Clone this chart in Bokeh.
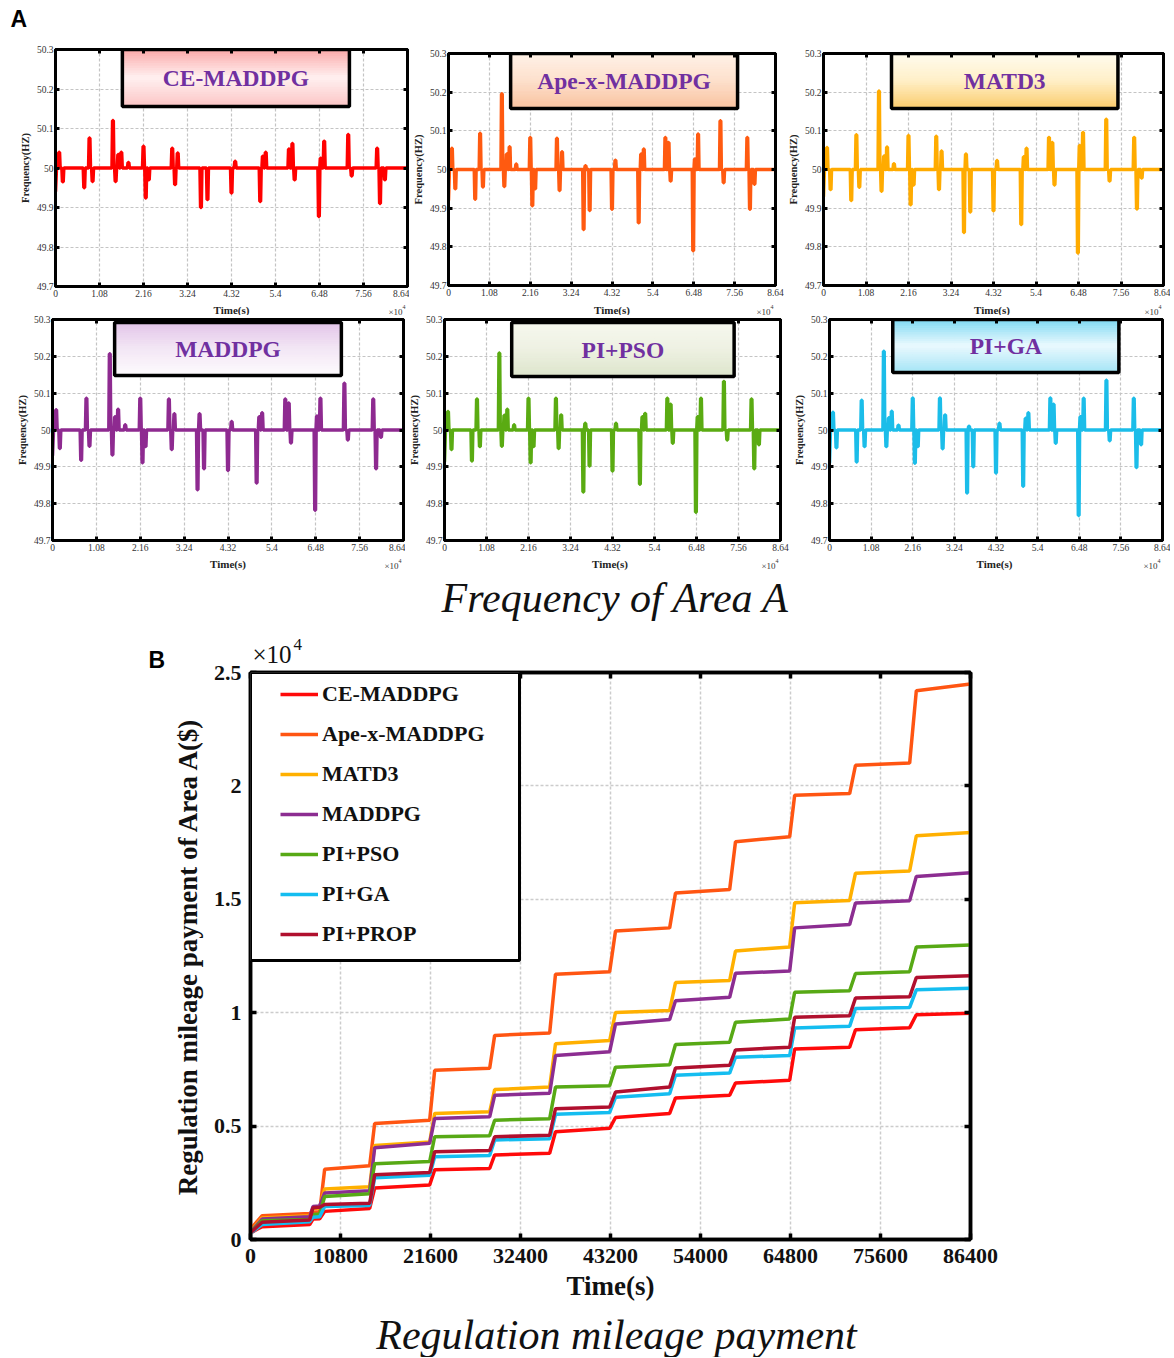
import numpy as np
from bokeh.plotting import figure
from bokeh.models import (Range1d, FixedTicker, LinearAxis, Label, Legend,
                          LegendItem, BoxAnnotation)
from bokeh.layouts import row, column
from bokeh.embed import file_html
from bokeh.resources import INLINE

# ------------------------------------------------------------------ data A
panel_names = ["CE-MADDPG", "Ape-x-MADDPG", "MATD3", "MADDPG", "PI+PSO", "PI+GA"]
panel_colors = ["#ff0000", "#ff5a10", "#ffab00", "#8e2a90", "#5aab12", "#1bbde9"]

event_times = [900, 1800, 7050, 8350, 9100, 14100, 14750, 15400, 16150, 17900,
               21600, 22150, 22900, 28650, 29350, 30000, 35700, 36200, 37300,
               43200, 44100, 50250, 50900, 51600, 57300, 58150, 58700, 64650,
               65100, 65950, 71850, 72700, 78950, 79650, 80850]
start_freq = [49.94, 49.92, 49.93, 49.93, 49.914, 49.91]

peaks_ce = [50.040, 49.965, 49.950, 50.076, 49.966, 50.120, 49.966, 50.034, 50.040, 50.014,
            50.055, 49.924, 49.970, 50.050, 49.958, 50.038, 49.900, 50.000, 49.920, 49.937,
            50.017, 49.915, 50.030, 50.040, 50.048, 50.062, 49.970, 49.877, 50.025, 50.068,
            50.085, 49.980, 50.050, 49.910, 49.970]
peaks_apex = [50.055, 49.950, 49.923, 50.094, 49.955, 50.196, 49.956, 50.040, 50.059, 50.014,
              50.083, 49.906, 49.950, 50.081, 49.946, 50.046, 49.845, 50.010, 49.894, 49.897,
              50.024, 49.862, 50.040, 50.053, 50.083, 50.070, 49.970, 49.790, 50.027, 50.092,
              50.126, 49.966, 50.083, 49.897, 49.962]
peaks_matd3 = [50.057, 49.948, 49.920, 50.090, 49.954, 50.203, 49.944, 50.035, 50.058, 50.015,
               50.088, 49.909, 49.960, 50.086, 49.948, 50.048, 49.837, 50.040, 49.890, 49.893,
               50.023, 49.858, 50.033, 50.055, 50.083, 50.070, 49.960, 49.784, 50.062, 50.096,
               50.130, 49.970, 50.083, 49.898, 49.978]
peaks_maddpg = [50.055, 49.950, 49.918, 50.086, 49.956, 50.207, 49.932, 50.036, 50.056, 50.014,
                50.086, 49.911, 49.955, 50.084, 49.947, 50.044, 49.838, 50.044, 49.895, 49.890,
                50.023, 49.856, 50.036, 50.047, 50.084, 50.073, 49.965, 49.782, 50.038, 50.086,
                50.127, 49.973, 50.084, 49.895, 49.980]
peaks_pso = [50.050, 49.947, 49.916, 50.084, 49.955, 50.209, 49.956, 50.040, 50.056, 50.014,
             50.086, 49.911, 49.955, 50.086, 49.950, 50.041, 49.832, 50.018, 49.902, 49.889,
             50.018, 49.853, 50.036, 50.045, 50.086, 50.070, 49.964, 49.777, 50.036, 50.086,
             50.132, 49.973, 50.084, 49.895, 49.960]
peaks_ga = [50.048, 49.952, 49.913, 50.081, 49.955, 50.214, 49.955, 50.033, 50.051, 50.013,
            50.087, 49.910, 49.955, 50.087, 49.949, 50.041, 49.829, 50.010, 49.900, 49.883,
            50.018, 49.847, 50.032, 50.047, 50.087, 50.070, 49.964, 49.768, 50.036, 50.086,
            50.135, 49.971, 50.086, 49.898, 49.960]
panel_peaks = [peaks_ce, peaks_apex, peaks_matd3, peaks_maddpg, peaks_pso, peaks_ga]

x_ticks_a = [0, 10800, 21600, 32400, 43200, 54000, 64800, 75600, 86400]
x_labels_a = ["0", "1.08", "2.16", "3.24", "4.32", "5.4", "6.48", "7.56", "8.64"]
y_ticks_a = [49.7, 49.8, 49.9, 50.0, 50.1, 50.2, 50.3]
y_labels_a = ["49.7", "49.8", "49.9", "50", "50.1", "50.2", "50.3"]

# ------------------------------------------------------------------ data B
series_names = ["CE-MADDPG", "Ape-x-MADDPG", "MATD3", "MADDPG", "PI+PSO", "PI+GA", "PI+PROP"]
series_colors = ["#ff0a0a", "#ff5512", "#ffb000", "#8c2d91", "#57a915", "#14bdf0", "#b0102e"]
pay_time = [0, 800, 1400, 7100, 7500, 8300, 8900, 14300, 14900, 21500, 22100, 28700, 29300,
            35900, 36600, 43100, 43800, 50300, 51000, 57500, 58200, 64700, 65300, 71900,
            72600, 79100, 79900, 86400]
pay_ce = [290, 450, 560, 660, 900, 920, 1240, 1370, 2270, 2400, 3070, 3130, 3730, 3800, 4750,
          4900, 5380, 5560, 6240, 6360, 6900, 7020, 8400, 8480, 9250, 9340, 9910, 9980]
pay_apex = [440, 800, 1050, 1150, 1200, 1220, 3100, 3250, 5120, 5260, 7460, 7550, 9000, 9100,
            11700, 11810, 13600, 13740, 15280, 15430, 17540, 17760, 19590, 19660, 20910, 21010,
            24200, 24490]
pay_matd3 = [350, 700, 950, 1050, 1350, 1400, 2230, 2330, 4150, 4300, 5560, 5630, 6610, 6720,
             8630, 8770, 10010, 10100, 11330, 11420, 12720, 12900, 14850, 14950, 16150, 16250,
             17800, 17950]
pay_maddpg = [320, 650, 900, 1000, 1450, 1480, 2050, 2150, 4050, 4240, 5340, 5410, 6360, 6450,
              8110, 8280, 9500, 9700, 10530, 10680, 11740, 11840, 13740, 13890, 14840, 14940,
              16010, 16170]
pay_pso = [300, 600, 830, 880, 1100, 1120, 1900, 2020, 3340, 3440, 4530, 4580, 5260, 5320, 6720,
           6780, 7600, 7700, 8600, 8700, 9580, 9720, 10900, 10970, 11730, 11810, 12900, 12980]
pay_ga = [280, 500, 660, 780, 980, 1000, 1460, 1500, 2720, 2830, 3650, 3700, 4390, 4440, 5520,
          5600, 6270, 6430, 7240, 7340, 8040, 8110, 9320, 9400, 10190, 10230, 11010, 11080]
pay_prop = [300, 560, 760, 860, 1400, 1420, 1540, 1600, 2850, 2950, 3870, 3920, 4530, 4600, 5770,
            5840, 6500, 6720, 7560, 7680, 8360, 8480, 9800, 9870, 10650, 10700, 11550, 11630]
pay_series = [pay_ce, pay_apex, pay_matd3, pay_maddpg, pay_pso, pay_ga, pay_prop]

x_ticks_b = [0, 10800, 21600, 32400, 43200, 54000, 64800, 75600, 86400]
y_ticks_b = [0, 5000, 10000, 15000, 20000, 25000]
y_labels_b = ["0", "0.5", "1", "1.5", "2", "2.5"]

# ------------------------------------------------------------------ styling / layout
SERIF = "Liberation Serif"
PAGE_W = 1170
# width, height, border l, r, t, b   (row 1 canvas y 37-303, row 2 canvas y 315-558)
panel_layout = [
    (409, 266, 55, 2, 12, 17),
    (375, 266, 39, 9, 16, 18),
    (386, 266, 36, 7, 16, 18),
    (405, 243, 52, 2, 4, 18),
    (385, 243, 34, 10, 4, 18),
    (380, 243, 36, 8, 4, 18),
]
# page x of each frame (left, right) - used for the strip texts under the panels
frame_x = [(55, 407), (448, 775), (820, 1163), (52, 403), (439, 780), (826, 1162)]
# title box: frame fraction left/right, px below frame top for top/bottom
box_geom = [
    (0.190, 0.835, 0, 57),
    (0.190, 0.884, 0, 55),
    (0.200, 0.866, 0, 55),
    (0.177, 0.823, 3, 56),
    (0.200, 0.862, 3, 57),
    (0.190, 0.869, 0, 53),
]
box_grad = [
    ("#fba8a8", "#fff0f0", "#fcc6c6"),
    ("#fff2e8", "#fde0cc", "#f9c3a0"),
    ("#fffbef", "#fff0c8", "#fbcc6e"),
    ("#e2c4e8", "#f3e6f5", "#fdfbfd"),
    ("#f6f8ef", "#eef1e2", "#dde5cc"),
    ("#7cd8f2", "#eaf9fe", "#a6e5f6"),
]


def hex_rgb(h):
    return np.array([int(h[i:i + 2], 16) for i in (1, 3, 5)], dtype=float)


def gradient(top, mid, bot, n):
    a, m, b = hex_rgb(top), hex_rgb(mid), hex_rgb(bot)
    out = []
    for k in range(n):
        f = (k + 0.5) / n
        if f < 0.5:
            c = a + (m - a) * (f / 0.5)
        else:
            c = m + (b - m) * ((f - 0.5) / 0.5)
        out.append("#%02x%02x%02x" % tuple(int(round(v)) for v in c))
    return out


def spike_path(start, times, peaks):
    xs = [0.0, 250.0]
    ys = [start, 50.0]
    for t, pk in zip(times, peaks):
        xs += [t - 240, t - 90, t + 90, t + 240]
        ys += [50.0, pk, pk, 50.0]
    xs.append(86400.0)
    ys.append(50.0)
    return xs, ys


def style_axis(ax, font_size, standoff, label_size, label_standoff, tick_in, tick_w):
    ax.major_tick_in = tick_in
    ax.major_tick_out = 0
    ax.minor_tick_line_color = None
    ax.major_tick_line_width = tick_w
    ax.major_tick_line_color = "black"
    ax.axis_line_width = tick_w
    ax.axis_line_color = "black"
    ax.major_label_text_font = SERIF
    ax.major_label_text_font_size = font_size
    ax.major_label_standoff = standoff
    ax.axis_label_text_font = SERIF
    ax.axis_label_text_font_size = label_size
    ax.axis_label_text_font_style = "bold"
    ax.axis_label_standoff = label_standoff


def tick_only_axis(ticker, tick_in, tick_w):
    ax = LinearAxis(ticker=ticker)
    style_axis(ax, "1px", 0, "1px", 0, tick_in, tick_w)
    ax.major_label_text_color = None
    ax.major_label_text_alpha = 0
    return ax


def make_small(i):
    w, h, bl, br, bt, bb = panel_layout[i]
    fh = h - bt - bb
    hz_px = 0.6 / fh
    p = figure(width=w, height=h, x_range=Range1d(0, 86400), y_range=Range1d(49.7, 50.3),
               output_backend="svg", toolbar_location=None,
               min_border_left=bl, min_border_right=br, min_border_top=bt, min_border_bottom=bb,
               y_axis_label="Frequency(HZ)")
    p.outline_line_color = "black"
    p.outline_line_width = 3
    p.outline_line_alpha = 1
    xt = FixedTicker(ticks=x_ticks_a)
    yt = FixedTicker(ticks=y_ticks_a)
    xa = p.xaxis[0]
    ya = p.yaxis[0]
    xa.ticker = xt
    ya.ticker = yt
    xa.major_label_overrides = {t: l for t, l in zip(x_ticks_a, x_labels_a)}
    ya.major_label_overrides = {t: l for t, l in zip(y_ticks_a, y_labels_a)}
    style_axis(xa, "9.5px", 3, "10.5px", 2, 4, 3)
    style_axis(ya, "9.5px", 2, "10.5px", 3, 4, 3)
    for ax in (xa, ya):
        ax.major_label_text_color = "#333333"
        ax.axis_label_text_color = "#222222"
    p.add_layout(tick_only_axis(xt, 4, 3), "above")
    p.add_layout(tick_only_axis(yt, 4, 3), "right")
    p.xgrid.ticker = xt
    p.ygrid.ticker = yt
    p.grid.grid_line_color = "#c4c4c4"
    p.grid.grid_line_dash = "3 2"
    p.grid.grid_line_width = 1.2

    xs, ys = spike_path(start_freq[i], event_times, panel_peaks[i])
    p.line(xs, ys, color=panel_colors[i], line_width=3.5)

    fl, fr, tp, bp = box_geom[i]
    l, r = fl * 86400, fr * 86400
    top_hz, bot_hz = 50.3 - tp * hz_px, 50.3 - bp * hz_px
    n = 24
    edges = np.linspace(top_hz, bot_hz, n + 1)
    cols = gradient(*box_grad[i], n)
    p.quad(left=l, right=r, top=edges[:-1], bottom=edges[1:], fill_color=cols,
           line_color=cols, line_width=1)
    p.quad(left=[l], right=[r], top=[top_hz], bottom=[bot_hz], fill_color=None,
           line_color="black", line_width=3.5)
    p.add_layout(Label(x=(l + r) / 2, y=(top_hz + bot_hz) / 2, text=panel_names[i],
                       text_align="center", text_baseline="middle", text_font=SERIF,
                       text_font_style="bold", text_font_size="23.5px", text_color="#7030a0"))
    return p


def strip(height, y_top):
    # a text-only band whose data coordinates are page pixels
    s = figure(width=PAGE_W, height=height, x_range=Range1d(0, PAGE_W),
               y_range=Range1d(y_top + height, y_top), x_axis_type=None, y_axis_type=None,
               min_border=0, toolbar_location=None, output_backend="svg")
    s.outline_line_color = None
    return s


def txt(p, x, y, text, size, style="normal", align="left", font=SERIF, color="#111111"):
    p.add_layout(Label(x=x, y=y, text=text, text_align=align, text_baseline="middle",
                       text_font=font, text_font_style=style, text_font_size=size,
                       text_color=color))


smalls = [make_small(i) for i in range(6)]

# ---- text strips
t0 = strip(37, 0)
txt(t0, 10, 18.5, "A", "23px", "bold", font="Liberation Sans", color="black")

t1 = strip(12, 303)
t2 = strip(75, 558)
for i in range(6):
    s, ty = (t1, 309) if i < 3 else (t2, 563)
    fl, fr = frame_x[i]
    txt(s, (fl + fr) / 2, ty, "Time(s)", "11px", "bold", align="center", color="#222222")
    txt(s, fr - 5, ty + 2, "×10", "9px", align="right", color="#333333")
    txt(s, fr - 5, ty - 3, "4", "6px", align="left", color="#333333")
txt(t2, 615, 597, "Frequency of Area A", "42px", "italic", align="center")

t3 = strip(48, 1309)
txt(t3, 616, 1334, "Regulation mileage payment", "42px", "italic", align="center")

# ------------------------------------------------------------------ panel B (canvas y 633-1309)
pB = figure(width=PAGE_W, height=676, x_range=Range1d(0, 86400), y_range=Range1d(0, 25000),
            output_backend="svg", toolbar_location=None,
            min_border_left=250, min_border_right=200, min_border_top=39, min_border_bottom=70,
            x_axis_label="Time(s)", y_axis_label="Regulation mileage payment of Area A($)")
pB.outline_line_color = "black"
pB.outline_line_width = 3.5
pB.outline_line_alpha = 1
xtb = FixedTicker(ticks=x_ticks_b)
ytb = FixedTicker(ticks=y_ticks_b)
xb = pB.xaxis[0]
yb = pB.yaxis[0]
xb.ticker = xtb
yb.ticker = ytb
xb.major_label_overrides = {t: str(t) for t in x_ticks_b}
yb.major_label_overrides = {t: l for t, l in zip(y_ticks_b, y_labels_b)}
style_axis(xb, "22px", 9, "27px", 5, 6, 3.5)
style_axis(yb, "22px", 9, "27px", 8, 6, 3.5)
for ax in (xb, yb):
    ax.major_label_text_font_style = "bold"
    ax.major_label_text_color = "#111111"
    ax.axis_label_text_color = "#111111"
pB.add_layout(tick_only_axis(xtb, 6, 3.5), "above")
pB.add_layout(tick_only_axis(ytb, 6, 3.5), "right")
pB.xgrid.ticker = xtb
pB.ygrid.ticker = ytb
pB.grid.grid_line_color = "#cccccc"
pB.grid.grid_line_dash = "3 2"
pB.grid.grid_line_width = 1.5

items = []
for name, col, vals in zip(series_names, series_colors, pay_series):
    r = pB.line(pay_time, vals, color=col, line_width=3.5)
    items.append(LegendItem(label=name, renderers=[r]))

v_px = 25000 / 567
t_px = 86400 / 720
pB.add_layout(BoxAnnotation(left=0, right=269 * t_px, top=25000,
                            bottom=25000 - 288 * v_px, fill_color="white", fill_alpha=1,
                            line_color="black", line_width=3, line_alpha=1))
legend = Legend(items=items, location=(30, 292), padding=0, margin=0, spacing=14,
                label_height=26, glyph_height=26, glyph_width=38, label_standoff=4,
                label_text_font=SERIF, label_text_font_style="bold",
                label_text_font_size="22px", label_text_color="#111111",
                border_line_alpha=0, background_fill_alpha=0)
pB.add_layout(legend)

# texts outside the frame of B live in its left side panel (not clipped)
for x, y, text, size, style, font in [
        (-102 * t_px, (1239 - 659) * v_px, "B", "23px", "bold", "Liberation Sans"),
        (2 * t_px, (1239 - 654) * v_px, "×10", "25px", "normal", SERIF),
        (43 * t_px, (1239 - 644) * v_px, "4", "17px", "normal", SERIF)]:
    pB.add_layout(Label(x=x, y=y, text=text, text_align="left", text_baseline="middle",
                        text_font=font, text_font_style=style, text_font_size=size,
                        text_color="black" if text == "B" else "#111111"), "left")

row1 = row(*[row(f) for f in smalls[:3]])
row2 = row(*[row(f) for f in smalls[3:]])
layout = column(row(t0), row1, row(t1), row2, row(t2), pB, row(t3))
open("out.html", "w").write(file_html(layout, INLINE))
